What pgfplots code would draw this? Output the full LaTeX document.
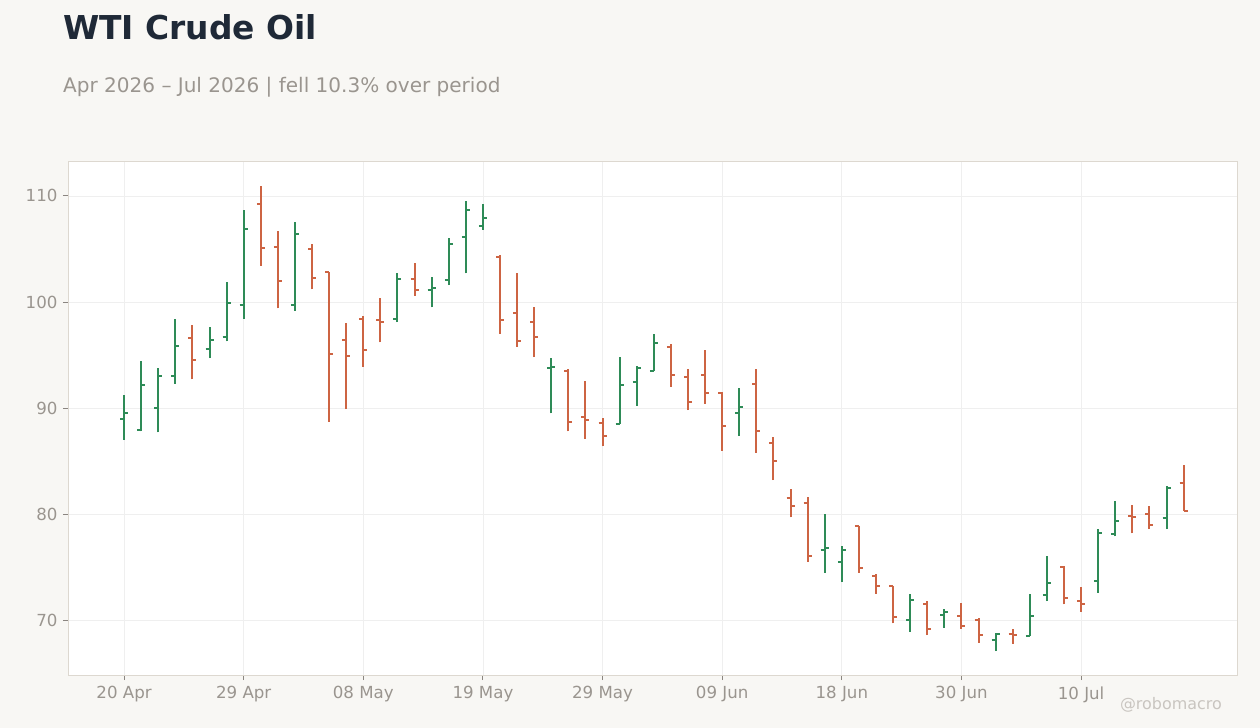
\documentclass[border=0pt]{standalone}
\usepackage{fontspec}
\setmainfont{DejaVu Sans}
\usepackage{pgfplots}
\usepackage{pgfplotstable}
\pgfplotsset{compat=1.18}

\definecolor{bgcol}{HTML}{F8F7F4}
\definecolor{titlecol}{HTML}{1F2937}
\definecolor{subcol}{HTML}{9A958F}
\definecolor{tickcol}{HTML}{9A958F}
\definecolor{tickmarkcol}{HTML}{8A8580}
\definecolor{bordercol}{HTML}{DDD8D0}
\definecolor{gridcol}{HTML}{EFEFEF}
\definecolor{upcol}{HTML}{2E8B57}
\definecolor{downcol}{HTML}{CD6443}
\definecolor{markcol}{HTML}{C9C5C0}

% open tick to the left, close tick to the right
\pgfdeclareplotmark{ohlcopen}{\pgfpathmoveto{\pgfpoint{-4bp}{0bp}}\pgfpathlineto{\pgfpoint{0bp}{0bp}}\pgfusepathqstroke}
\pgfdeclareplotmark{ohlcclose}{\pgfpathmoveto{\pgfpoint{0bp}{0bp}}\pgfpathlineto{\pgfpoint{4bp}{0bp}}\pgfusepathqstroke}

% trading day index, open, high, low, close
\pgfplotstableread{
i o h l c
0 89.0 91.2 87.0 89.5
1 87.9 94.4 87.8 92.2
2 90.0 93.8 87.7 93.0
3 93.0 98.4 92.3 95.9
4 96.6 97.8 92.7 94.5
5 95.6 97.6 94.7 96.4
6 96.7 101.9 96.3 99.9
7 99.7 108.7 98.4 106.9
8 109.2 110.9 103.4 105.1
9 105.2 106.7 99.4 102.0
10 99.7 107.5 99.2 106.4
11 105.0 105.5 101.2 102.3
12 102.8 102.8 88.7 95.1
13 96.4 98.0 89.9 94.9
14 98.4 98.7 93.9 95.5
15 98.3 100.4 96.2 98.1
16 98.4 102.7 98.1 102.2
17 102.2 103.7 100.6 101.1
18 101.1 102.4 99.5 101.3
19 102.1 106.0 101.6 105.5
20 106.1 109.5 102.7 108.7
21 107.2 109.2 106.8 107.9
22 104.2 104.4 97.0 98.3
23 99.0 102.7 95.8 96.3
24 98.1 99.5 94.8 96.7
25 93.8 94.7 89.5 93.9
26 93.5 93.7 87.8 88.7
27 89.2 92.6 87.1 88.9
28 88.6 89.1 86.4 87.4
29 88.5 94.8 88.5 92.2
30 92.5 94.0 90.2 93.8
31 93.5 97.0 93.5 96.1
32 95.8 96.0 92.0 93.1
33 92.9 93.7 89.8 90.6
34 93.1 95.5 90.4 91.4
35 91.4 91.5 86.0 88.3
36 89.5 91.9 87.4 90.1
37 92.3 93.7 85.8 87.8
38 86.7 87.3 83.2 85.0
39 81.5 82.4 79.7 80.8
40 81.1 81.6 75.5 76.1
41 76.6 80.0 74.5 76.8
42 75.5 77.0 73.6 76.6
43 78.9 78.9 74.5 74.9
44 74.2 74.4 72.5 73.2
45 73.2 73.2 69.7 70.3
46 70.0 72.5 68.9 71.9
47 71.5 71.8 68.6 69.2
48 70.5 71.1 69.3 70.8
49 70.4 71.6 69.2 69.5
50 70.0 70.2 67.9 68.6
51 68.1 68.8 67.1 68.7
52 68.7 69.2 67.8 68.6
53 68.5 72.5 68.5 70.4
54 72.4 76.1 71.8 73.5
55 75.0 75.1 71.5 72.1
56 71.8 73.1 70.8 71.5
57 73.7 78.6 72.6 78.2
58 78.1 81.2 77.9 79.4
59 79.8 80.9 78.2 79.7
60 80.0 80.8 78.6 79.0
61 79.6 82.7 78.6 82.5
62 82.9 84.6 80.3 80.3
}\ohlc

\pgfplotsset{
  upbar/.style={x filter/.expression={\thisrow{c}>=\thisrow{o} ? x : nan}},
  downbar/.style={x filter/.expression={\thisrow{c}<\thisrow{o} ? x : nan}},
}

\begin{document}
\begin{tikzpicture}
\fill[bgcol] (0,0) rectangle (1260bp,728bp);
\useasboundingbox (0,0) rectangle (1260bp,728bp);

\node[anchor=base west, inner sep=0pt, text=titlecol, font=\fontsize{33}{40}\selectfont\bfseries]
  at (63bp,688bp) {WTI Crude Oil};
\node[anchor=base west, inner sep=0pt, text=subcol, font=\fontsize{20.1}{24}\selectfont]
  at (63bp,635.5bp) {Apr 2026 – Jul 2026 | fell 10.3\% over period};
\node[anchor=base east, inner sep=0pt, text=markcol, font=\fontsize{16}{20}\selectfont]
  at (1222bp,19bp) {@robomacro};

\begin{axis}[
  at={(68bp,53bp)}, anchor=south west,
  scale only axis, width=1170bp, height=513bp,
  xmin=-3.28, xmax=65.18, ymin=64.84, ymax=113.2,
  axis background/.style={fill=white},
  axis line style={draw=bordercol, line width=1bp},
  grid=major, major grid style={draw=gridcol, line width=0.8bp},
  tick align=outside, major tick length=5bp,
  tick style={draw=tickmarkcol, line width=1bp},
  xtick={0,7,14,21,28,35,42,49,56},
  xticklabels={20 Apr,29 Apr,08 May,19 May,29 May,09 Jun,18 Jun,30 Jun,10 Jul},
  ytick={70,80,90,100,110},
  xtick pos=bottom, ytick pos=left,
  ticklabel style={text=tickcol, font=\fontsize{16.7}{20}\selectfont},
  xticklabel style={yshift=-3bp},
  yticklabel style={xshift=-2bp},
  /pgf/number format/assume math mode=true,
  yticklabel style={/pgf/number format/fixed},
]
% high-low ranges
\addplot[upbar, draw=none, mark=none, forget plot,
  error bars/.cd, y dir=plus, y explicit, error mark=none,
  error bar style={draw=upcol, line width=2bp}]
  table[x=i, y=l, y error expr=\thisrow{h}-\thisrow{l}] {\ohlc};
\addplot[downbar, draw=none, mark=none, forget plot,
  error bars/.cd, y dir=plus, y explicit, error mark=none,
  error bar style={draw=downcol, line width=2bp}]
  table[x=i, y=l, y error expr=\thisrow{h}-\thisrow{l}] {\ohlc};
% open and close ticks
\addplot[upbar, only marks, mark=ohlcopen, color=upcol, mark options={line width=2bp}]
  table[x=i, y=o] {\ohlc};
\addplot[upbar, only marks, mark=ohlcclose, color=upcol, mark options={line width=2bp}]
  table[x=i, y=c] {\ohlc};
\addplot[downbar, only marks, mark=ohlcopen, color=downcol, mark options={line width=2bp}]
  table[x=i, y=o] {\ohlc};
\addplot[downbar, only marks, mark=ohlcclose, color=downcol, mark options={line width=2bp}]
  table[x=i, y=c] {\ohlc};
\end{axis}
\end{tikzpicture}
\end{document}
